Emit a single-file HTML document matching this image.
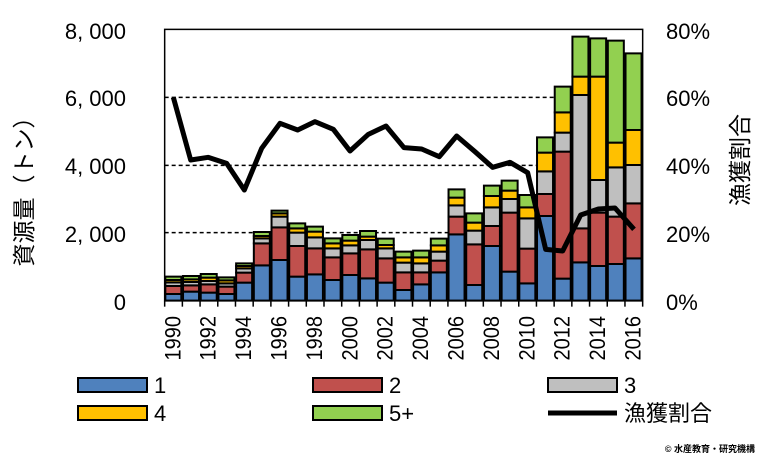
<!DOCTYPE html>
<html><head><meta charset="utf-8"><style>
body{margin:0;background:#fff;}
svg{display:block;font-family:"Liberation Sans","Noto Sans CJK JP",sans-serif;}
</style></head><body>
<svg width="760" height="460" viewBox="0 0 760 460">
<g transform="translate(150,20) scale(0.33333)" id="plot">
<g stroke="#000" stroke-width="1.5" stroke-dasharray="4,3">
<line x1="44" y1="232" x2="1478" y2="232" vector-effect="non-scaling-stroke"/>
<line x1="44" y1="436" x2="1478" y2="436" vector-effect="non-scaling-stroke"/>
<line x1="44" y1="638" x2="1478" y2="638" vector-effect="non-scaling-stroke"/>
</g>
<g id="bars"></g>
<polyline fill="none" stroke="#000" stroke-width="5" stroke-linejoin="round" vector-effect="non-scaling-stroke" points="70,232 122,420 175,412 230,430 283,510 335,385 390,310 443,330 495,305 550,328 600,393 655,343 708,318 762,383 815,387 868,410 920,348 975,395 1028,442 1080,427 1133,458 1187,688 1238,693 1292,585 1345,567 1395,564 1452,628"/>
<rect x="44" y="28" width="1434" height="814" fill="none" stroke="#000" stroke-width="1.5" vector-effect="non-scaling-stroke"/>
<g id="ticks" stroke="#000" stroke-width="1.5"></g>
</g>
<g font-size="22" text-anchor="end" fill="#000">
<text x="126" y="39">8, 000</text>
<text x="126" y="106">6, 000</text>
<text x="126" y="174">4, 000</text>
<text x="126" y="242">2, 000</text>
<text x="126" y="310">0</text>
</g>
<g font-size="22" text-anchor="start" fill="#000">
<text x="666" y="39">80%</text>
<text x="666" y="106">60%</text>
<text x="666" y="174">40%</text>
<text x="666" y="242">20%</text>
<text x="666" y="310">0%</text>
</g>
<text transform="translate(32,186) rotate(-90)" font-size="23" text-anchor="middle">資源量（トン）</text>
<text transform="translate(748,160) rotate(-90)" font-size="23" text-anchor="middle">漁獲割合</text>
<g id="years" font-size="20" text-anchor="end"></g>
<g stroke="#000" stroke-width="2">
<rect x="78" y="378" width="69" height="14" fill="#4f81bd"/>
<rect x="313" y="378" width="69" height="14" fill="#c0504d"/>
<rect x="548" y="378" width="69" height="14" fill="#bfbfbf"/>
<rect x="78" y="406" width="69" height="14" fill="#ffc000"/>
<rect x="313" y="406" width="69" height="14" fill="#92d050"/>
</g>
<line x1="548" y1="413" x2="617" y2="413" stroke="#000" stroke-width="5"/>
<g font-size="22">
<text x="154" y="393">1</text><text x="389" y="393">2</text><text x="624" y="393">3</text>
<text x="154" y="421">4</text><text x="389" y="421">5+</text><text x="624" y="421">漁獲割合</text>
</g>
<text x="755" y="452" font-size="9" text-anchor="end" font-weight="bold">© 水産教育・研究機構</text>
</svg>
<script>
var d=[[822,798,787,780,770],[815,796,786,778,768],[818,793,783,773,762],[822,800,790,781,772],[788,758,745,738,730],[736,670,655,648,636],[720,622,590,580,572],[770,678,638,625,610],[763,685,652,635,620],[780,712,685,670,655],[765,700,676,662,645],[775,688,660,650,633],[788,715,685,675,656],[810,757,728,712,695],[793,757,730,712,692],[757,722,695,676,656],[643,590,556,533,508],[795,673,632,608,580],[678,618,562,528,497],[755,578,537,512,482],[790,686,595,562,525],[588,522,454,398,352],[776,395,338,277,200],[727,625,225,170,50],[738,578,480,170,55],[732,590,442,368,62],[715,550,435,330,100]];
var c=["#4f81bd","#c0504d","#bfbfbf","#ffc000","#92d050"];
var ns="http://www.w3.org/2000/svg",b=document.getElementById("bars"),t=document.getElementById("ticks"),y=document.getElementById("years");
d.forEach(function(r,i){var cx=70+53.1*i,prev=842;
for(var k=0;k<5;k++){var e=document.createElementNS(ns,"rect");e.setAttribute("x",cx-24);e.setAttribute("width",48);e.setAttribute("y",r[k]);e.setAttribute("height",Math.max(prev-r[k],0));e.setAttribute("fill",c[k]);e.setAttribute("stroke","#000");e.setAttribute("stroke-width","2");e.setAttribute("vector-effect","non-scaling-stroke");b.appendChild(e);prev=r[k];}
});
for(var i=0;i<=27;i++){var x=44+1434/27*i;var l=document.createElementNS(ns,"line");l.setAttribute("x1",x);l.setAttribute("x2",x);l.setAttribute("y1",842);l.setAttribute("y2",860);l.setAttribute("vector-effect","non-scaling-stroke");t.appendChild(l);}
for(var j=0;j<14;j++){var yr=1990+2*j,px=150+(70+53.1*2*j)/3+7;var tx=document.createElementNS(ns,"text");tx.setAttribute("transform","translate("+px+",316) rotate(-90) scale(1,1.1)");tx.textContent=yr;y.appendChild(tx);}
</script>
</body></html>
